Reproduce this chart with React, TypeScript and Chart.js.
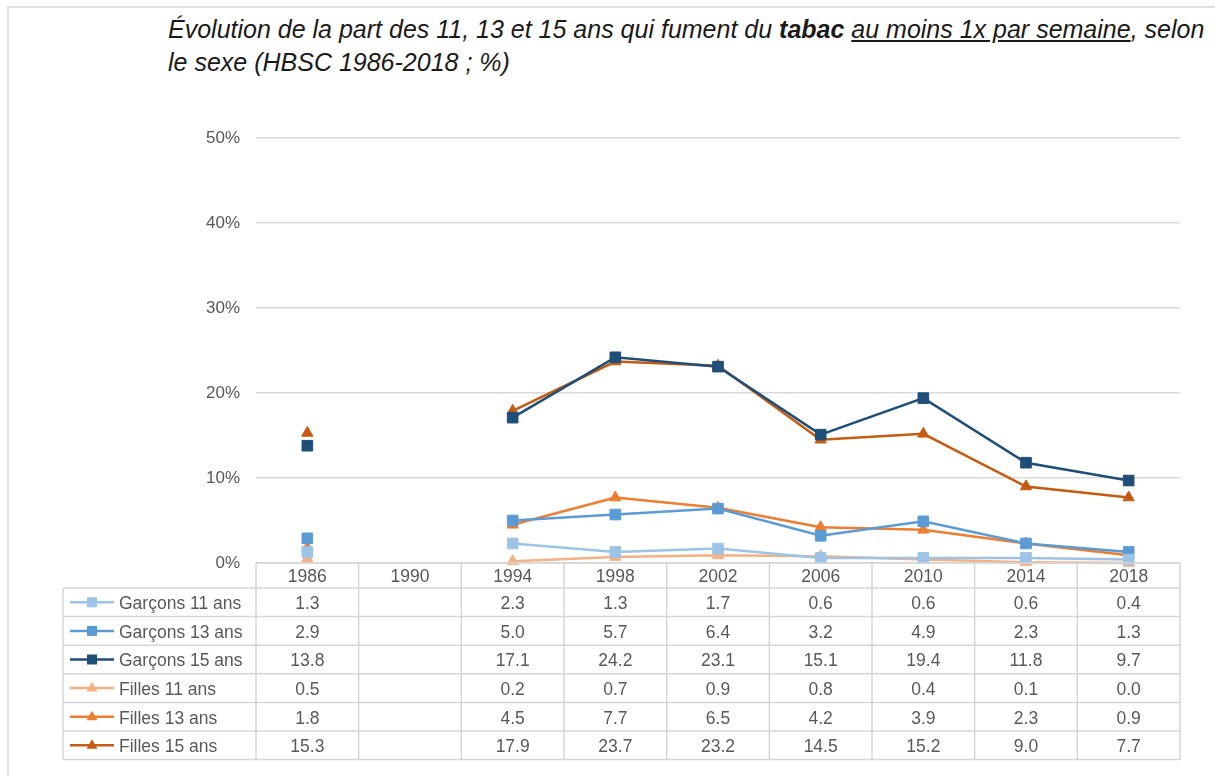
import React, { useEffect, useRef } from "react";
import { Chart, registerables } from "chart.js";

Chart.register(...registerables);

const years = ["1986", "1990", "1994", "1998", "2002", "2006", "2010", "2014", "2018"];
const garcons11 = [1.3, null, 2.3, 1.3, 1.7, 0.6, 0.6, 0.6, 0.4];
const garcons13 = [2.9, null, 5.0, 5.7, 6.4, 3.2, 4.9, 2.3, 1.3];
const garcons15 = [13.8, null, 17.1, 24.2, 23.1, 15.1, 19.4, 11.8, 9.7];
const filles11 = [0.5, null, 0.2, 0.7, 0.9, 0.8, 0.4, 0.1, 0.0];
const filles13 = [1.8, null, 4.5, 7.7, 6.5, 4.2, 3.9, 2.3, 0.9];
const filles15 = [15.3, null, 17.9, 23.7, 23.2, 14.5, 15.2, 9.0, 7.7];
const yTicks = [0, 10, 20, 30, 40, 50];

const seriesNames = [
  "Garçons 11 ans",
  "Garçons 13 ans",
  "Garçons 15 ans",
  "Filles 11 ans",
  "Filles 13 ans",
  "Filles 15 ans",
];
const seriesValues = [garcons11, garcons13, garcons15, filles11, filles13, filles15];
const seriesColors = ["#9DC3E6", "#5B9BD5", "#1F4E79", "#F4B183", "#ED7D31", "#C55A11"];
const seriesMarkers = ["rect", "rect", "rect", "triangle", "triangle", "triangle"];

const FONT = '"Liberation Sans", Arial, sans-serif';
const TEXT_COLOR = "#595959";
const GRID_COLOR = "#D9D9D9";

const tablePlugin = {
  id: "dataTable",
  afterDraw(chart: any) {
    const ctx = chart.ctx;
    const xs = chart.scales.x;
    const area = chart.chartArea;
    const n = years.length;
    const colW = (area.right - area.left) / n;
    const headerTop = area.bottom;
    const headerH = 25;
    const rowH = 28.6;
    const tableLeft = 63;
    const rowsTop = headerTop + headerH;
    const bottom = rowsTop + rowH * seriesNames.length;

    ctx.save();
    ctx.strokeStyle = "#D6D6D6";
    ctx.lineWidth = 1.5;
    ctx.beginPath();
    ctx.moveTo(area.left, headerTop);
    ctx.lineTo(area.right, headerTop);
    for (let i = 0; i <= seriesNames.length; i++) {
      const y = rowsTop + rowH * i;
      ctx.moveTo(tableLeft, y);
      ctx.lineTo(area.right, y);
    }
    ctx.moveTo(tableLeft, rowsTop);
    ctx.lineTo(tableLeft, bottom);
    for (let i = 0; i <= n; i++) {
      const x = area.left + colW * i;
      ctx.moveTo(x, headerTop);
      ctx.lineTo(x, bottom);
    }
    ctx.stroke();

    ctx.fillStyle = TEXT_COLOR;
    ctx.font = `17.5px ${FONT}`;
    ctx.textAlign = "center";
    ctx.textBaseline = "middle";
    years.forEach((yr, i) => {
      const cx = xs.getPixelForValue(i);
      ctx.fillText(yr, cx, headerTop + headerH / 2 + 1.5);
    });

    seriesNames.forEach((name, r) => {
      const cy = rowsTop + rowH * (r + 0.5) + 2;
      const vals = seriesValues[r];
      ctx.fillStyle = TEXT_COLOR;
      ctx.textAlign = "center";
      vals.forEach((v, i) => {
        if (v === null || v === undefined) return;
        ctx.fillText((v as number).toFixed(1), xs.getPixelForValue(i), cy);
      });
      const color = seriesColors[r];
      const ky = cy - 2;
      ctx.strokeStyle = color;
      ctx.lineWidth = 2.5;
      ctx.beginPath();
      ctx.moveTo(70, ky);
      ctx.lineTo(114, ky);
      ctx.stroke();
      ctx.fillStyle = color;
      ctx.beginPath();
      if (seriesMarkers[r] === "rect") {
        ctx.rect(92 - 5, ky - 5, 10, 10);
      } else {
        ctx.moveTo(92, ky - 6);
        ctx.lineTo(92 + 5.5, ky + 3.5);
        ctx.lineTo(92 - 5.5, ky + 3.5);
        ctx.closePath();
      }
      ctx.fill();
      ctx.fillStyle = TEXT_COLOR;
      ctx.textAlign = "left";
      ctx.fillText(name, 119, cy);
    });
    ctx.restore();
  },
};

export default function App() {
  const canvasRef = useRef<HTMLCanvasElement | null>(null);

  useEffect(() => {
    const canvas = canvasRef.current;
    if (!canvas) return;
    const datasets = seriesNames.map((name, i) => ({
      label: name,
      data: seriesValues[i],
      borderColor: seriesColors[i],
      backgroundColor: seriesColors[i],
      pointStyle: seriesMarkers[i],
      pointRadius: seriesMarkers[i] === "rect" ? 7.5 : 6.5,
      pointBorderWidth: 1,
      borderWidth: 2.5,
      spanGaps: false,
      clip: false as any,
      tension: 0,
    }));
    const chart = new Chart(canvas, {
      type: "line",
      data: { labels: years, datasets: datasets as any },
      options: {
        animation: false,
        responsive: false,
        layout: { padding: { left: 0, right: 35, top: 138, bottom: 213 } },
        plugins: {
          legend: { display: false },
          title: { display: false },
          tooltip: { enabled: false },
        },
        scales: {
          x: { type: "category", display: false, offset: true },
          y: {
            min: 0,
            max: 50,
            afterBuildTicks: (scale: any) => {
              scale.ticks = yTicks.map((v) => ({ value: v }));
            },
            afterFit: (scale: any) => {
              scale.width = 256;
            },
            ticks: {
              callback: (v: any) => `${v}%`,
              color: TEXT_COLOR,
              font: { family: FONT, size: 17 },
              padding: 16,
            },
            grid: { color: GRID_COLOR, lineWidth: 1.5, drawTicks: false },
            border: { display: false },
          },
        },
      },
      plugins: [tablePlugin],
    });
    return () => chart.destroy();
  }, []);

  return (
    <div style={{ position: "absolute", left: 0, top: 0, width: 1215, height: 776, background: "#fff", overflow: "hidden" }}>
      <div
        style={{
          position: "absolute",
          left: 7,
          top: 6,
          width: 1215,
          height: 776,
          borderLeft: "2px solid #E2E2E2",
          borderTop: "2px solid #E2E2E2",
        }}
      />
      <div
        style={{
          position: "absolute",
          left: 168,
          top: 13,
          width: 1045,
          fontFamily: FONT,
          fontStyle: "italic",
          fontSize: 25,
          lineHeight: "33px",
          color: "#1a1a1a",
        }}
      >
        Évolution de la part des 11, 13 et 15 ans qui fument du <b>tabac</b>{" "}
        <span style={{ textDecoration: "underline" }}>au moins 1x par semaine</span>, selon le sexe (HBSC 1986-2018 ; %)
      </div>
      <canvas ref={canvasRef} width={1215} height={776} style={{ position: "absolute", left: 0, top: 0, width: 1215, height: 776 }} />
    </div>
  );
}
